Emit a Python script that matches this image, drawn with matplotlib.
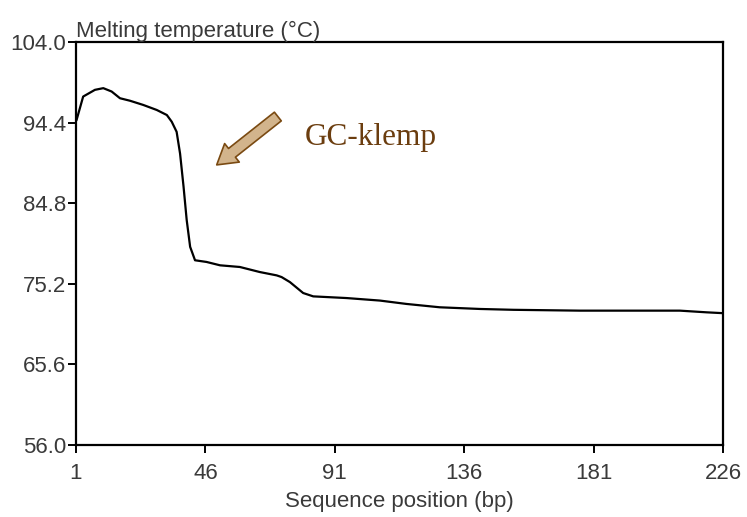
import matplotlib
matplotlib.use("Agg")
import matplotlib.pyplot as plt

# Melting profile along the sequence
position = [1, 1.2, 3.5, 7.6, 10.5, 13.4, 16.3, 19.8, 24.4, 29.1, 32.6, 34.3, 36.0,
            37.2, 38.4, 39.5, 40.7, 42.4, 46.4, 51.1, 58.0, 64.9, 70.8, 72.5, 75.4,
            80.0, 83.5, 95.1, 106.7, 115.9, 127.5, 141.5, 153.1, 176.2, 199.4,
            211.0, 220.3, 226]
tm = [94.6, 94.7, 97.5, 98.3, 98.5, 98.1, 97.3, 97.0, 96.5, 95.9, 95.3, 94.5, 93.3,
      90.7, 86.8, 82.8, 79.6, 78.0, 77.8, 77.4, 77.2, 76.6, 76.2, 76.0, 75.4,
      74.1, 73.7, 73.5, 73.2, 72.8, 72.4, 72.2, 72.1, 72.0, 72.0,
      72.0, 71.8, 71.7]

x_ticks = [1, 46, 91, 136, 181, 226]
y_ticks = [56.0, 65.6, 75.2, 84.8, 94.4, 104.0]

plt.rcParams['font.family'] = ['Liberation Sans', 'DejaVu Sans']

fig = plt.figure(figsize=(7.47, 5.17), dpi=100)
ax = fig.add_axes([0.1017, 0.1393, 0.8662, 0.7795])

ax.plot(position, tm, color='black', lw=1.6, solid_joinstyle='round')

ax.set_xlim(1, 226)
ax.set_ylim(56.0, 104.0)
ax.set_xticks(x_ticks)
ax.set_xticklabels([str(v) for v in x_ticks])
ax.set_yticks(y_ticks)
ax.set_yticklabels([f"{v:.1f}" for v in y_ticks])

for s in ax.spines.values():
    s.set_linewidth(1.6)
    s.set_color('black')

ax.tick_params(axis='both', direction='out', length=6, width=1.4,
               labelsize=16, labelcolor='#3a3a3a', color='black')
ax.tick_params(axis='x', pad=7)
ax.tick_params(axis='y', pad=1)

ax.set_xlabel('Sequence position (bp)', fontsize=16, color='#3a3a3a', labelpad=5)
ax.text(0.0, 1.0, 'Melting temperature (°C)', transform=ax.transAxes,
        ha='left', va='bottom', fontsize=16, color='#3a3a3a')

# Annotation arrow pointing at the GC-clamp drop
ax.annotate('', xy=(0.2175, 0.695), xytext=(0.312, 0.815),
            xycoords='axes fraction', textcoords='axes fraction',
            arrowprops=dict(arrowstyle='simple,head_length=1.4,head_width=1.7,tail_width=0.8',
                            mutation_scale=10, facecolor='#d2b48c',
                            edgecolor='#7a4a12', lw=1.2, shrinkA=0, shrinkB=0))
ax.text(0.354, 0.763, 'GC-klemp', transform=ax.transAxes, ha='left', va='center',
        fontsize=22.5, color='#6b3d0f', family=['Liberation Serif', 'DejaVu Serif'])

fig.savefig('out.png', dpi=100)
